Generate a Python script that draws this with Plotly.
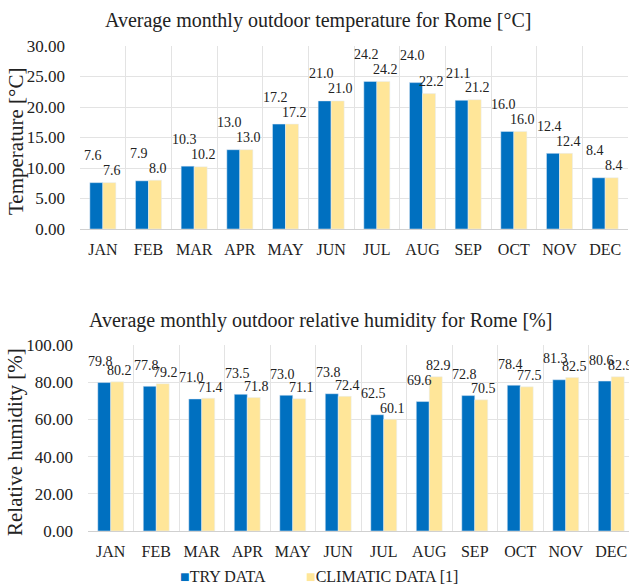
import plotly.graph_objects as go

months = ["JAN", "FEB", "MAR", "APR", "MAY", "JUN", "JUL", "AUG", "SEP", "OCT", "NOV", "DEC"]
temp_try = [7.6, 7.9, 10.3, 13.0, 17.2, 21.0, 24.2, 24.0, 21.1, 16.0, 12.4, 8.4]
temp_clim = [7.6, 8.0, 10.2, 13.0, 17.2, 21.0, 24.2, 22.2, 21.2, 16.0, 12.4, 8.4]
hum_try = [79.8, 77.8, 71.0, 73.5, 73.0, 73.8, 62.5, 69.6, 72.8, 78.4, 81.3, 80.6]
hum_clim = [80.2, 79.2, 71.4, 71.8, 71.1, 72.4, 60.1, 82.9, 70.5, 77.5, 82.5, 82.9]
temp_ticks = [0, 5, 10, 15, 20, 25, 30]
hum_ticks = [0, 20, 40, 60, 80, 100]
series_names = ["TRY DATA", "CLIMATIC DATA [1]"]

BLUE = "#0070C0"
YELLOW = "#FFE699"
FONT = "Liberation Serif, DejaVu Serif, serif"
GRID = "#E3E3E3"
TXT = "#222222"

W, H = 629, 588

fig = go.Figure()
fig.add_trace(go.Bar(x=months, y=temp_try, name=series_names[0], marker_color=BLUE,
                     xaxis="x", yaxis="y"))
fig.add_trace(go.Bar(x=months, y=temp_clim, name=series_names[1], marker_color=YELLOW,
                     xaxis="x", yaxis="y"))
fig.add_trace(go.Bar(x=months, y=hum_try, name=series_names[0], marker_color=BLUE,
                     xaxis="x2", yaxis="y2"))
fig.add_trace(go.Bar(x=months, y=hum_clim, name=series_names[1], marker_color=YELLOW,
                     xaxis="x2", yaxis="y2"))

annotations = []
def labels(xref, yref, vals, xshift, yshift):
    for m, v in zip(months, vals):
        annotations.append(dict(x=m, y=v, xref=xref, yref=yref, text=f"{v:.1f}",
                                showarrow=False, xshift=xshift, yshift=yshift,
                                font=dict(family=FONT, size=14, color=TXT)))

labels("x", "y", temp_try, -10, 27)
labels("x", "y", temp_clim, 9, 12)
labels("x2", "y2", hum_try, -10, 21)
labels("x2", "y2", hum_clim, 9, 11)

def ptext(text, x, y, size, angle=0, xanchor="center"):
    annotations.append(dict(text=text, x=x / W, y=1 - y / H, xref="paper", yref="paper",
                            showarrow=False, textangle=angle, xanchor=xanchor, yanchor="middle",
                            font=dict(family=FONT, size=size, color=TXT)))

ptext("Average monthly outdoor temperature for Rome [°C]", 318, 21, 20)
ptext("Average monthly outdoor relative humidity for Rome [%]", 320, 320, 20)
ptext("Temperature [°C]", 16, 142, 21, -90)
ptext("Relative humidity [%]", 15, 442, 21, -90)

# legend (square marker + label, as in the reference)
ptext(f"<span style='color:{BLUE}'>■</span>{series_names[0]}", 178, 576, 16, xanchor="left")
ptext(f"<span style='color:{YELLOW}'>■</span>{series_names[1]}", 304, 576, 16, xanchor="left")

xcommon = dict(type="category", tickson="boundaries", showgrid=True, gridcolor=GRID,
               ticks="", showline=True, linecolor="#D0D0D0", automargin=False,
               ticklabelstandoff=6,
               tickfont=dict(family=FONT, size=16, color=TXT))
ycommon = dict(showgrid=True, gridcolor=GRID, zeroline=False, showline=False, automargin=False,
               tickformat=".2f", ticklabelstandoff=14,
               tickfont=dict(family=FONT, size=17, color=TXT))

fig.update_layout(
    width=W, height=H,
    margin=dict(l=0, r=0, t=0, b=0, autoexpand=False),
    paper_bgcolor="white", plot_bgcolor="white",
    barmode="group", bargap=0.43, bargroupgap=0,
    showlegend=False,
    font=dict(family=FONT, color=TXT),
    xaxis=dict(domain=[80 / W, 628 / W], anchor="y", range=[-0.5, 11.5], **xcommon),
    yaxis=dict(domain=[1 - 229 / H, 1 - 46 / H], anchor="x", range=[0, 30],
               tickvals=temp_ticks, **ycommon),
    xaxis2=dict(domain=[88 / W, 1], anchor="y2", range=[-0.5, 11.39], **xcommon),
    yaxis2=dict(domain=[1 - 531 / H, 1 - 345 / H], anchor="x2", range=[0, 100],
                tickvals=hum_ticks, **ycommon),
    annotations=annotations,
)

fig.write_html("out.html", config={"displayModeBar": False},
               post_script="document.body.style.margin='0';")
